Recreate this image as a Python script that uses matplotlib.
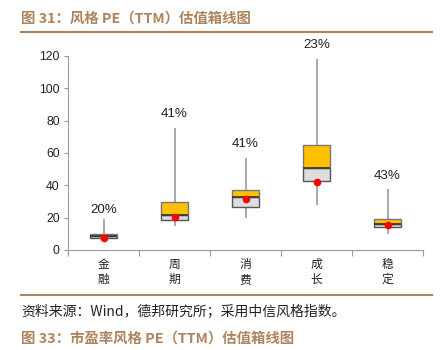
#!/usr/bin/env python3
"""
Style PE (TTM) valuation box plot
"""

import matplotlib

matplotlib.use("Agg")
import matplotlib.pyplot as plt
from matplotlib.lines import Line2D

plt.rcParams["font.family"] = ["Noto Sans CJK SC", "DejaVu Sans"]

cats = ["金\n融", "周\n期", "消\n费", "成\n长", "稳\n定"]
w_lo = [6.5, 14.8, 19.8, 28.0, 9.9]
q1 = [7.4, 18.4, 26.8, 42.9, 14.0]
med = [8.7, 21.6, 32.6, 50.7, 16.3]
q3 = [9.7, 29.7, 36.9, 64.7, 19.0]
w_hi = [19.2, 75.6, 56.7, 118.0, 37.5]
current = [7.4, 20.2, 31.5, 42.0, 15.7]
pct_labels = ["20%", "41%", "41%", "23%", "43%"]
label_y = [21.2, 80.4, 61.8, 122.9, 42.3]

brown = "#AD845F"
latin = ["Liberation Sans", "DejaVu Sans"]


def main():
    fg = plt.figure(figsize=(4.42, 3.5), dpi=100)
    ax = fg.add_axes([0.154, 0.286, 0.803, 0.554])

    x = list(range(len(cats)))
    width = 0.38

    ax.vlines(x, w_lo, w_hi, color="#999999", lw=1.2, zorder=1)
    ax.bar(x, [m - a for m, a in zip(med, q1)], bottom=q1, width=width,
           color="#DDDDDD", edgecolor="#555555", lw=1.0, zorder=2)
    ax.bar(x, [b - m for b, m in zip(q3, med)], bottom=med, width=width,
           color="#FFC000", edgecolor="#777777", lw=1.0, zorder=2)
    ax.hlines(med, [i - width / 2 for i in x], [i + width / 2 for i in x],
              color="#333333", lw=1.2, zorder=3)
    ax.scatter(x, current, s=20, color="#FF0000", zorder=4)

    for i, (t, yy) in enumerate(zip(pct_labels, label_y)):
        ax.text(i, yy, t, ha="center", va="bottom", fontsize=9.6,
                family=latin, color="#222222")

    ax.set_xlim(-0.5, len(cats) - 0.5)
    ax.set_ylim(0, 120)
    ax.set_yticks(range(0, 121, 20))
    ax.tick_params(axis="y", labelsize=8.8, length=3, color="#999999", pad=3)
    for lbl in ax.get_yticklabels():
        lbl.set_family(latin)
        lbl.set_color("#222222")

    ax.set_xticks([i - 0.5 for i in range(len(cats) + 1)], minor=False)
    ax.set_xticklabels([])
    ax.set_xticks(x, minor=True)
    ax.set_xticklabels(cats, minor=True, fontsize=8.5, linespacing=1.15,
                       color="#222222")
    ax.tick_params(axis="x", which="major", length=4, color="#999999")
    ax.tick_params(axis="x", which="minor", length=0, pad=6)

    for s in ("top", "right"):
        ax.spines[s].set_visible(False)
    for s in ("left", "bottom"):
        ax.spines[s].set_color("#999999")

    fg.text(0.048, 0.948, "图 31：风格 PE（TTM）估值箱线图", fontsize=10.4,
            weight="bold", color=brown, va="center")
    fg.add_artist(Line2D([0.048, 0.977], [0.909, 0.909], color=brown, lw=1.5,
                         transform=fg.transFigure))
    fg.add_artist(Line2D([0.048, 0.977], [0.157, 0.157], color=brown, lw=1.5,
                         transform=fg.transFigure))
    fg.text(0.048, 0.11, "资料来源：Wind，德邦研究所；采用中信风格指数。",
            fontsize=10, color="#222222", va="center")
    fg.text(0.048, 0.034, "图 33：市盈率风格 PE（TTM）估值箱线图", fontsize=10.4,
            weight="bold", color=brown, va="center")

    fg.savefig("out.png", dpi=100)


if __name__ == "__main__":
    main()
